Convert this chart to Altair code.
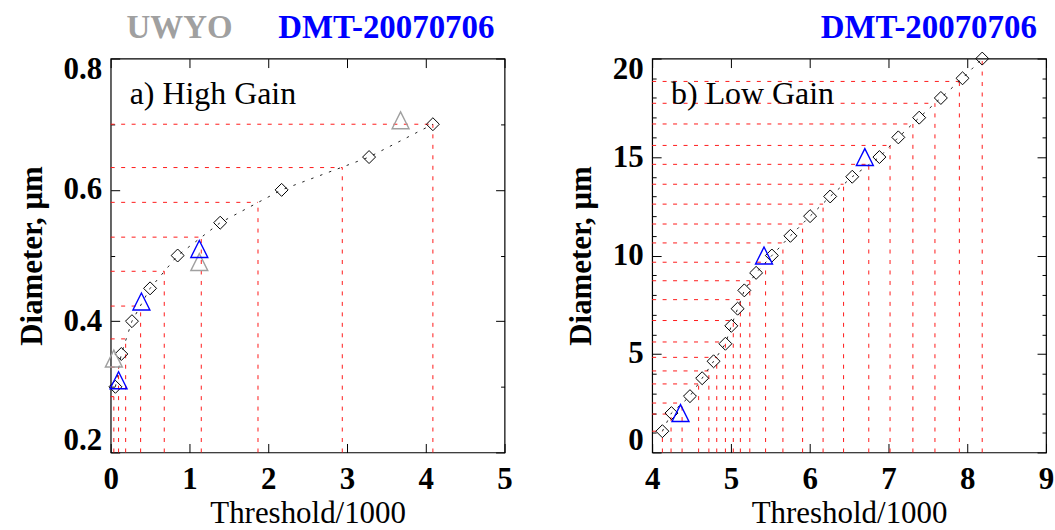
import altair as alt
import pandas as pd

# ---------------- a) High Gain ----------------
a_diam_x = [0.06, 0.135, 0.27, 0.50, 0.85, 1.39, 2.17, 3.28, 4.09]
a_diam_y = [0.30, 0.35, 0.40, 0.45, 0.50, 0.55, 0.60, 0.65, 0.70]
# bin edges (threshold, diameter) marked with red dashed guides
a_edge_x = [0.04, 0.10, 0.19, 0.38, 0.68, 1.15, 1.87, 2.94, 4.09]
a_edge_y = [0.285, 0.33, 0.373, 0.423, 0.476, 0.528, 0.581, 0.634, 0.70]
a_dmt_x = [0.10, 0.39, 1.125]
a_dmt_y = [0.31, 0.43, 0.51]
a_uwyo_x = [0.04, 1.125, 3.68]
a_uwyo_y = [0.343, 0.49, 0.706]
a_xticks = [0, 1, 2, 3, 4, 5]
a_yticks = [0.2, 0.4, 0.6, 0.8]
a_yminor = [0.3, 0.5, 0.7]

# ---------------- b) Low Gain ----------------
b_diam_x = [4.13, 4.245, 4.48, 4.635, 4.78, 4.93, 5.005, 5.085, 5.17, 5.32, 5.52,
            5.755, 6.005, 6.26, 6.54, 6.885, 7.125, 7.39, 7.665, 7.94, 8.19]
b_diam_y = [1.08, 2.0, 2.86, 3.77, 4.63, 5.52, 6.43, 7.30, 8.23, 9.12, 10.0,
            11.0, 12.0, 13.0, 14.0, 15.0, 16.0, 17.0, 18.0, 19.0, 20.0]
b_edge_x = [4.13, 4.24, 4.38, 4.59, 4.72, 4.82, 4.93, 5.03, 5.12, 5.24, 5.44,
            5.66, 5.91, 6.17, 6.43, 6.75, 7.02, 7.31, 7.59, 7.90, 8.19]
b_edge_y = [1.08, 1.95, 2.51, 3.48, 4.14, 4.83, 5.61, 6.70, 7.76, 8.72, 9.66,
            10.64, 11.60, 12.61, 13.62, 14.63, 15.59, 16.68, 17.73, 18.84, 20.0]
b_dmt_x = [4.36, 5.42, 6.70]
b_dmt_y = [2.0, 10.0, 15.0]
b_xticks = [4, 5, 6, 7, 8, 9]
b_yticks = [0, 5, 10, 15, 20]
b_yminor = [1, 2, 3, 4, 6, 7, 8, 9, 11, 12, 13, 14, 16, 17, 18, 19]

SERIF = "Liberation Serif"
W = 395
H = 395
RED = "#ff1a1a"
BLUE = "#0000ff"
GRAY = "#a0a0a0"
TRI = "M-1,1L0,-1L1,1Z"
DIAMOND = "M-1,0L0,-1L1,0L0,1Z"


def tick_axis(orient, values, size):
    return alt.Axis(orient=orient, offset=-W if orient in ("left", "right") else -H,
                    values=values, labels=False, domain=False, grid=False,
                    ticks=True, tickSize=size, tickColor="black", tickWidth=1,
                    title=None)


def panel(diam_x, diam_y, edge_x, edge_y, markers, xdom, ydom, xticks, yticks,
          yminor, yfmt, label, headers):
    xs = alt.Scale(domain=xdom, nice=False, zero=False)
    ys = alt.Scale(domain=ydom, nice=False, zero=False)

    pts = pd.DataFrame({"x": diam_x, "y": diam_y, "i": list(range(len(diam_x)))})
    edges = pd.DataFrame({"xb": edge_x, "yb": edge_y})
    edges["x0"] = xdom[0]
    edges["y0"] = ydom[0]

    horiz = alt.Chart(edges).transform_filter(f"datum.yb < {ydom[1]}").mark_rule(
        color=RED, strokeDash=[4, 6.5], strokeWidth=1
    ).encode(
        x=alt.X("x0:Q", scale=xs, axis=None), x2=alt.X2("xb"),
        y=alt.Y("yb:Q", scale=ys, axis=None),
    )
    vert = alt.Chart(edges).mark_rule(
        color=RED, strokeDash=[4, 6.5], strokeWidth=1
    ).encode(
        x=alt.X("xb:Q", scale=xs, axis=None),
        y=alt.Y("y0:Q", scale=ys, axis=None), y2=alt.Y2("yb"),
    )
    curve = alt.Chart(pts).mark_line(
        color="#222222", strokeDash=[2.5, 7], strokeWidth=1
    ).encode(
        x=alt.X("x:Q", scale=xs, axis=None),
        y=alt.Y("y:Q", scale=ys, axis=None),
        order="i:Q",
    )
    diamonds = alt.Chart(pts).mark_point(
        shape=DIAMOND, size=169, filled=False, color="black", strokeWidth=1, opacity=1
    ).encode(
        x=alt.X("x:Q", scale=xs, axis=alt.Axis(
            orient="bottom", values=xticks, format="d", ticks=False, domain=False,
            grid=False, labelPadding=12, labelFontSize=31, labelFontWeight="bold",
            labelFlush=False, title="Threshold/1000", titleFontSize=31,
            titleFontWeight="normal", titlePadding=4)),
        y=alt.Y("y:Q", scale=ys, axis=alt.Axis(
            orient="left", values=yticks, format=yfmt, ticks=False, domain=False,
            grid=False, labelPadding=9, labelFontSize=31, labelFontWeight="bold",
            labelFlush=True, labelFlushOffset=4, title="Diameter, μm",
            titleFontSize=31, titleFontWeight="bold", titlePadding=15)),
    )

    layers = [horiz, vert, curve, diamonds]
    for mx, my, col in markers:
        mdf = pd.DataFrame({"x": mx, "y": my})
        layers.append(alt.Chart(mdf).mark_point(
            shape=TRI, size=289, filled=False, color=col, strokeWidth=1.4, opacity=1
        ).encode(
            x=alt.X("x:Q", scale=xs, axis=None),
            y=alt.Y("y:Q", scale=ys, axis=None),
        ))

    ghost = alt.Chart(pts).mark_point(opacity=0)
    # inward ticks on all four sides of the frame
    layers.append(ghost.encode(
        x=alt.X("x:Q", scale=xs, axis=tick_axis("top", xticks, 9)),
        y=alt.Y("y:Q", scale=ys, axis=tick_axis("right", yticks, 9)),
    ))
    layers.append(ghost.encode(
        x=alt.X("x:Q", scale=xs, axis=tick_axis("bottom", xticks, 9)),
        y=alt.Y("y:Q", scale=ys, axis=tick_axis("left", yticks, 9)),
    ))
    layers.append(ghost.encode(
        x=alt.X("x:Q", scale=xs, axis=None),
        y=alt.Y("y:Q", scale=ys, axis=tick_axis("right", yminor, 4)),
    ))
    layers.append(ghost.encode(
        x=alt.X("x:Q", scale=xs, axis=None),
        y=alt.Y("y:Q", scale=ys, axis=tick_axis("left", yminor, 4)),
    ))

    layers.append(alt.Chart(pd.DataFrame({"t": [label]})).mark_text(
        font=SERIF, fontSize=32, fontWeight="normal", color="black",
        align="left", baseline="alphabetic"
    ).encode(text="t:N", x=alt.value(19), y=alt.value(46)))

    for txt, col, hx, al in headers:
        layers.append(alt.Chart(pd.DataFrame({"t": [txt]})).mark_text(
            font=SERIF, fontSize=33, fontWeight="bold", color=col,
            align=al, baseline="alphabetic"
        ).encode(text="t:N", x=alt.value(hx), y=alt.value(-21)))

    return alt.layer(*layers).resolve_axis(x="independent", y="independent").properties(
        width=W, height=H
    )


panel_a = panel(
    a_diam_x, a_diam_y, a_edge_x, a_edge_y,
    [(a_uwyo_x, a_uwyo_y, GRAY), (a_dmt_x, a_dmt_y, BLUE)],
    [0, 5], [0.2, 0.8], a_xticks, a_yticks, a_yminor, ".1f", "a) High Gain",
    [("UWYO", GRAY, 69, "center"), ("DMT-20070706", BLUE, 168, "left")],
)
panel_b = panel(
    b_diam_x, b_diam_y, b_edge_x, b_edge_y,
    [(b_dmt_x, b_dmt_y, BLUE)],
    [4, 9], [0, 20], b_xticks, b_yticks, b_yminor, "d", "b) Low Gain",
    [("DMT-20070706", BLUE, 169, "left")],
)

chart = alt.hconcat(panel_a, panel_b, spacing=148, bounds="flush").properties(
    padding={"left": 15, "top": 10, "right": 0, "bottom": 0}
).configure(
    font=SERIF
).configure_view(
    stroke="black", strokeWidth=1.2
).configure_axis(
    grid=False, labelFont=SERIF, titleFont=SERIF,
    labelColor="black", titleColor="black"
)

chart.save("out.html", embed_options={"renderer": "svg", "actions": False})
